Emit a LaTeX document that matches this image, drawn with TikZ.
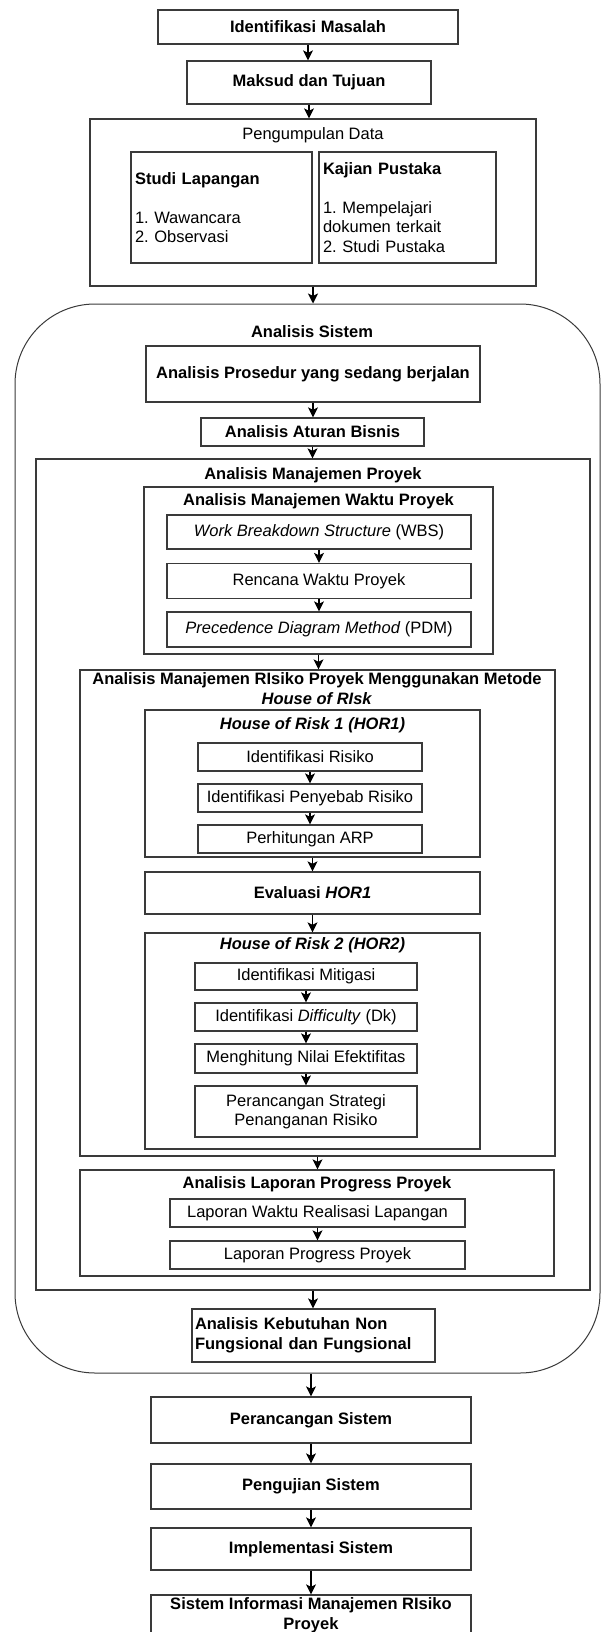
\documentclass[tikz,border=0pt]{standalone}
\usepackage{fontspec}
\setmainfont{Liberation Sans}
\usepackage{xcolor}
\usepackage{tikz}
\usetikzlibrary{arrows.meta, positioning}
\definecolor{linegray}{HTML}{3A3A3A}
\frenchspacing

\begin{document}
\begin{tikzpicture}[
    x=1pt, y=-1pt,
    font=\fontsize{16.5}{19.5}\selectfont,
    box/.style={rectangle, draw=linegray, line width=1.3pt, fill=white, align=center,
                inner sep=0pt, font=\fontsize{16.5}{19.5}\selectfont\bfseries},
    subbox/.style={box, font=\fontsize{16.5}{19.5}\selectfont},
    group/.style={rectangle, draw=linegray, line width=1.3pt, fill=white, inner sep=0pt},
    grouptitle/.style={align=center, inner sep=0pt, font=\fontsize{16.5}{19.5}\selectfont\bfseries},
    arrow/.style={-{Stealth[length=10pt, width=10pt, inset=2.5pt]}, line width=1.2pt, draw=black}
  ]
    \useasboundingbox (0,0) rectangle (601,1632);

    % awal
    \node[box, minimum width=300pt, minimum height=34pt] (ident)  at (308,27)   {Identifikasi Masalah};
    \node[box, minimum width=244pt, minimum height=43pt] (maksud) at (309,82.5) {Maksud dan Tujuan};

    \node[group, minimum width=446pt, minimum height=167pt] (kumpul) at (313,202.5) {};
    \node[grouptitle, font=\fontsize{16.5}{19.5}\selectfont] (kumpultitle) at (313,135) {Pengumpulan Data};
    \node[subbox, minimum width=181pt, minimum height=111pt, text width=173pt,
          inner xsep=4pt, align=left] (studi) at (221.5,207.5)
      {\textbf{Studi Lapangan}\\[19.5pt] 1. Wawancara\\ 2. Observasi};
    \node[subbox, minimum width=177pt, minimum height=111pt, text width=169pt,
          inner xsep=4pt, align=left] (kajian) at (407.5,207.5)
      {\textbf{Kajian Pustaka}\\[19.5pt] 1. Mempelajari\\ dokumen terkait\\ 2. Studi Pustaka};

    % analisis sistem
    \node[group, line width=1pt, rounded corners=80pt, minimum width=585pt,
          minimum height=1069pt] (sistem) at (307.5,838.5) {};
    \node[grouptitle] (sistemtitle) at (312,332) {Analisis Sistem};
    \node[box, minimum width=334pt, minimum height=56pt] (prosedur) at (313,374) {Analisis Prosedur yang sedang berjalan};
    \node[box, minimum width=223pt, minimum height=28pt] (aturan) at (312.5,432) {Analisis Aturan Bisnis};

    \node[group, minimum width=554pt, minimum height=831pt] (amp) at (313,874.5) {};
    \node[grouptitle] (amptitle) at (313,475) {Analisis Manajemen Proyek};

    \node[group, minimum width=349pt, minimum height=167pt] (amwp) at (318.5,570.5) {};
    \node[grouptitle] (amwptitle) at (318.5,501) {Analisis Manajemen Waktu Proyek};
    \node[subbox, minimum width=304pt, minimum height=34pt] (wbs) at (319,532) {\textit{Work Breakdown Structure} (WBS)};
    \node[subbox, minimum width=304pt, minimum height=35pt] (rencana) at (319,581) {Rencana Waktu Proyek};
    \node[subbox, minimum width=304pt, minimum height=35pt] (pdm) at (319,629.5) {\textit{Precedence Diagram Method} (PDM)};

    \node[group, minimum width=475pt, minimum height=486pt] (arisk) at (317.5,913) {};
    \node[grouptitle] (risktitle) at (317,688.5) {Analisis Manajemen RIsiko Proyek Menggunakan Metode\\ \textit{House of RIsk}};

    \node[group, minimum width=335pt, minimum height=147pt] (hor1) at (312.5,783.5) {};
    \node[grouptitle] (hor1title) at (312.5,725) {\textit{House of Risk 1 (HOR1)}};
    \node[subbox, minimum width=224pt, minimum height=28pt] (idrisiko) at (310,757) {Identifikasi Risiko};
    \node[subbox, minimum width=224pt, minimum height=28pt] (penyebab) at (310,798) {Identifikasi Penyebab Risiko};
    \node[subbox, minimum width=224pt, minimum height=28pt] (arp) at (310,839) {Perhitungan ARP};

    \node[box, minimum width=335pt, minimum height=42pt] (evaluasi) at (312.5,893) {Evaluasi \textit{HOR1}};

    \node[group, minimum width=335pt, minimum height=216pt] (hor2) at (312.5,1041) {};
    \node[grouptitle] (hor2title) at (312.5,945) {\textit{House of Risk 2 (HOR2)}};
    \node[subbox, minimum width=222pt, minimum height=27pt] (mitigasi) at (306,976.5) {Identifikasi Mitigasi};
    \node[subbox, minimum width=222pt, minimum height=28pt] (dk) at (306,1017) {Identifikasi \textit{Difficulty} (Dk)};
    \node[subbox, minimum width=222pt, minimum height=29pt] (efektif) at (306,1058.5) {Menghitung Nilai Efektifitas};
    \node[subbox, minimum width=222pt, minimum height=51pt] (strategi) at (306,1111.5) {Perancangan Strategi\\ Penanganan Risiko};

    \node[group, minimum width=474pt, minimum height=106pt] (alp) at (317,1223) {};
    \node[grouptitle] (alptitle) at (317,1184) {Analisis Laporan Progress Proyek};
    \node[subbox, minimum width=295pt, minimum height=28pt] (waktu) at (317.5,1213) {Laporan Waktu Realisasi Lapangan};
    \node[subbox, minimum width=295pt, minimum height=28pt] (progress) at (317.5,1255) {Laporan Progress Proyek};

    \node[box, minimum width=243pt, minimum height=53pt, text width=237pt, inner xsep=3pt,
          align=left] (kebutuhan) at (313.5,1335.5) {Analisis Kebutuhan Non\\ Fungsional dan Fungsional};

    % akhir
    \node[box, minimum width=320pt, minimum height=46pt] (perancangan) at (311,1420) {Perancangan Sistem};
    \node[box, minimum width=320pt, minimum height=45pt] (pengujian) at (311,1486.5) {Pengujian Sistem};
    \node[box, minimum width=320pt, minimum height=42pt] (implementasi) at (311,1549) {Implementasi Sistem};
    \node[box, minimum width=320pt, minimum height=40pt] (sim) at (311,1615) {Sistem Informasi Manajemen RIsiko\\ Proyek};

    % panah
    \draw[arrow] (ident.south) -- (ident.south |- maksud.north);
    \draw[arrow] (maksud.south) -- (maksud.south |- kumpul.north);
    \draw[arrow] (kumpul.south) -- (kumpul.south |- sistem.north);
    \draw[arrow] (prosedur.south) -- (prosedur.south |- aturan.north);
    \draw[arrow] (aturan.south) -- (aturan.south |- amp.north);
    \draw[arrow] (wbs.south) -- (wbs.south |- rencana.north);
    \draw[arrow] (rencana.south) -- (rencana.south |- pdm.north);
    \draw[arrow] (amwp.south) -- (amwp.south |- arisk.north);
    \draw[arrow] (idrisiko.south) -- (idrisiko.south |- penyebab.north);
    \draw[arrow] (penyebab.south) -- (penyebab.south |- arp.north);
    \draw[arrow] (hor1.south) -- (hor1.south |- evaluasi.north);
    \draw[arrow] (evaluasi.south) -- (evaluasi.south |- hor2.north);
    \draw[arrow] (mitigasi.south) -- (mitigasi.south |- dk.north);
    \draw[arrow] (dk.south) -- (dk.south |- efektif.north);
    \draw[arrow] (efektif.south) -- (efektif.south |- strategi.north);
    \draw[arrow] (arisk.south) -- (arisk.south |- alp.north);
    \draw[arrow] (waktu.south) -- (waktu.south |- progress.north);
    \draw[arrow] (amp.south) -- (amp.south |- kebutuhan.north);
    \draw[arrow] (sistem.south -| perancangan.north) -- (perancangan.north);
    \draw[arrow] (perancangan.south) -- (perancangan.south |- pengujian.north);
    \draw[arrow] (pengujian.south) -- (pengujian.south |- implementasi.north);
    \draw[arrow] (implementasi.south) -- (implementasi.south |- sim.north);
\end{tikzpicture}
\end{document}
